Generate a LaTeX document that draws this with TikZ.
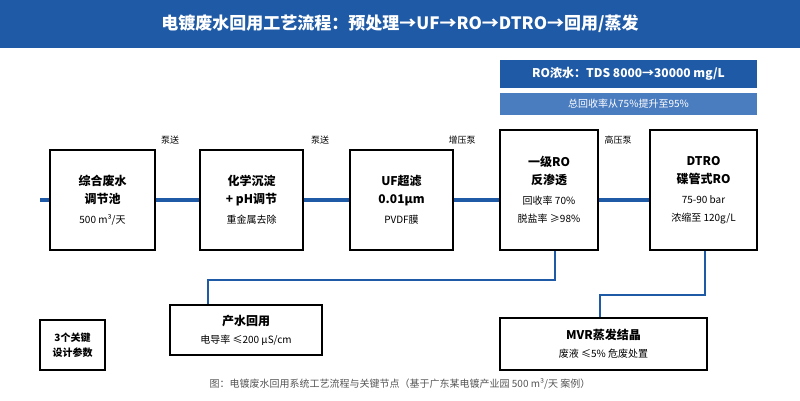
\documentclass[tikz,border=0pt]{standalone}
\usepackage{fontspec}
\setmainfont{Noto Sans CJK SC}
\usetikzlibrary{positioning}
\definecolor{hdblue}{HTML}{1F5AA6}
\definecolor{liteblue}{HTML}{4A7CC0}
\definecolor{capgray}{HTML}{555555}
\newcommand\subtxt{\fontsize{10}{15}\selectfont\mdseries}
\tikzset{
    % process box
    stage/.style={
           draw,
           very thick,
           fill=white,
           align=center,
           font=\fontsize{12}{18}\selectfont\bfseries,},
    % flow line
    flow/.style={
           hdblue,
           line width=3.5pt,},
    branch/.style={
           hdblue,
           line width=1.2pt,},
    pump/.style={
           font=\fontsize{9}{10}\selectfont,}
}

\begin{document}
\begin{tikzpicture}[x=1pt,y=-1pt]
  \useasboundingbox (0,0) rectangle (800,400);
  \fill[hdblue] (0,0) rectangle (800,48);
  \node (title) at (400,24) [text=white,font=\fontsize{17}{20}\selectfont\bfseries] {电镀废水回用工艺流程：预处理→UF→RO→DTRO→回用/蒸发};
  \node (conc) at (628.5,74) [fill=hdblue,text=white,minimum width=257,minimum height=28,inner sep=0,font=\fontsize{12}{14}\selectfont\bfseries] {RO浓水：TDS 8000→30000 mg/L};
  \node (rate) at (628.5,104) [fill=liteblue,text=white,minimum width=257,minimum height=22,inner sep=0,font=\fontsize{10}{12}\selectfont] {总回收率从75\%提升至95\%};
  \coordinate (in) at (40,200);
  \coordinate (out) at (757,200);
  \draw [flow] (in) -- (out);
  \node (A) at (102.5,200) [stage,minimum width=105,minimum height=100] {综合废水\\调节池\\[2pt]{\subtxt 500 m³/天}};
  \node (B) at (251.5,200) [stage,minimum width=103,minimum height=100] {化学沉淀\\+ pH调节\\[2pt]{\subtxt 重金属去除}};
  \node (C) at (401.5,200) [stage,minimum width=103,minimum height=100] {UF超滤\\0.01μm\\[2pt]{\subtxt PVDF膜}};
  \node (D) at (549,190) [stage,minimum width=98,minimum height=120] {一级RO\\反渗透\\[2pt]{\subtxt 回收率 70\%}\\{\subtxt 脱盐率 ≥98\%}};
  \node (E) at (703.5,190) [stage,minimum width=107,minimum height=120] {DTRO\\碟管式RO\\[2pt]{\subtxt 75-90 bar}\\{\subtxt 浓缩至 120g/L}};
  \node (p1) at (170,140) [pump] {泵送};
  \node (p2) at (320,140) [pump] {泵送};
  \node (p3) at (462,140) [pump] {增压泵};
  \node (p4) at (618,140) [pump] {高压泵};
  \node (F) at (246,330) [stage,minimum width=152,minimum height=50] {产水回用\\{\subtxt 电导率 ≤200 μS/cm}};
  \node (G) at (603.5,344) [stage,minimum width=207,minimum height=52] {MVR蒸发结晶\\{\subtxt 废液 ≤5\% 危废处置}};
  \node (K) at (72.5,345) [stage,minimum width=65,minimum height=50,font=\fontsize{10}{15}\selectfont\bfseries] {3个关键\\设计参数};
  \draw [branch] (D.south -| 555,0) |- (208,280) -- (F.north -| 208,0);
  \draw [branch] (E.south -| 705,0) |- (600,295) -- (G.north -| 600,0);
  \node (cap) at (400,384) [text=capgray,font=\fontsize{10}{12}\selectfont] {图：电镀废水回用系统工艺流程与关键节点（基于广东某电镀产业园 500 m³/天 案例）};
\end{tikzpicture}
\end{document}
